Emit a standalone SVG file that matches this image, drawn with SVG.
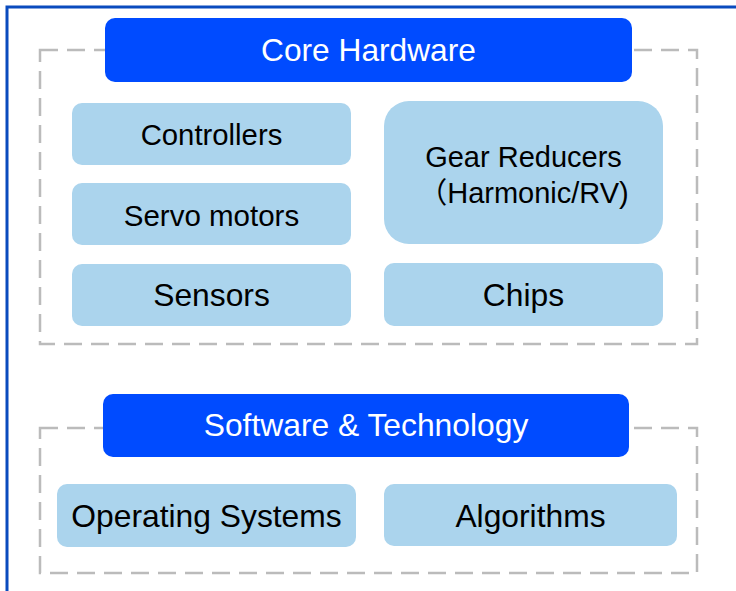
<svg xmlns="http://www.w3.org/2000/svg" width="736" height="591" viewBox="0 0 736 591">
<style>
.frame{fill:none;stroke:#0A4BBE;stroke-width:3}
.dash{fill:none;stroke:#BBBBBB;stroke-width:2.5;stroke-dasharray:18 9}
.hdr{fill:#004BFF}
.box{fill:#ABD4ED}
.ht{font-family:"Liberation Sans","Noto Sans CJK SC",sans-serif;fill:#FFFFFF;text-anchor:middle}
.bt{font-family:"Liberation Sans","Noto Sans CJK SC",sans-serif;fill:#000000;text-anchor:middle}
</style>
<rect x="0" y="0" width="736" height="591" fill="#FFFFFF"/>
<rect class="frame" x="7" y="7" width="800" height="700"/>
<g id="groups">
<rect class="dash" x="40" y="50" width="657" height="294"/>
<rect class="dash" x="40" y="428" width="657" height="145"/>
</g>
<g id="core-hardware">
<rect class="hdr" x="105" y="18" width="527" height="64" rx="10"/>
<text class="ht" x="368.5" y="61" font-size="31.7">Core Hardware</text>
</g>
<g id="controllers">
<rect class="box" x="72" y="103" width="279" height="62" rx="10"/>
<text class="bt" x="211.5" y="145" font-size="29.3">Controllers</text>
</g>
<g id="servo-motors">
<rect class="box" x="72" y="183" width="279" height="62" rx="10"/>
<text class="bt" x="211.5" y="225.5" font-size="29.5">Servo motors</text>
</g>
<g id="sensors">
<rect class="box" x="72" y="264" width="279" height="62" rx="10"/>
<text class="bt" x="211.5" y="306" font-size="31.8">Sensors</text>
</g>
<g id="gear-reducers">
<rect class="box" x="384" y="101" width="279" height="143" rx="25"/>
<text class="bt" x="523.5" y="167" font-size="29">Gear Reducers</text>
<text class="bt" x="523.5" y="202.5" font-size="29">（Harmonic/RV)</text>
</g>
<g id="chips">
<rect class="box" x="384" y="263" width="279" height="63" rx="10"/>
<text class="bt" x="523.5" y="306" font-size="31.8">Chips</text>
</g>
<g id="software-technology">
<rect class="hdr" x="103" y="394" width="526" height="63" rx="10"/>
<text class="ht" x="366" y="436" font-size="31.8">Software &amp; Technology</text>
</g>
<g id="operating-systems">
<rect class="box" x="57" y="484" width="299" height="63" rx="10"/>
<text class="bt" x="206.5" y="527" font-size="31.8">Operating Systems</text>
</g>
<g id="algorithms">
<rect class="box" x="384" y="484" width="293" height="62" rx="10"/>
<text class="bt" x="530.5" y="527" font-size="31.8">Algorithms</text>
</g>
<g id="connectors"></g>
</svg>
